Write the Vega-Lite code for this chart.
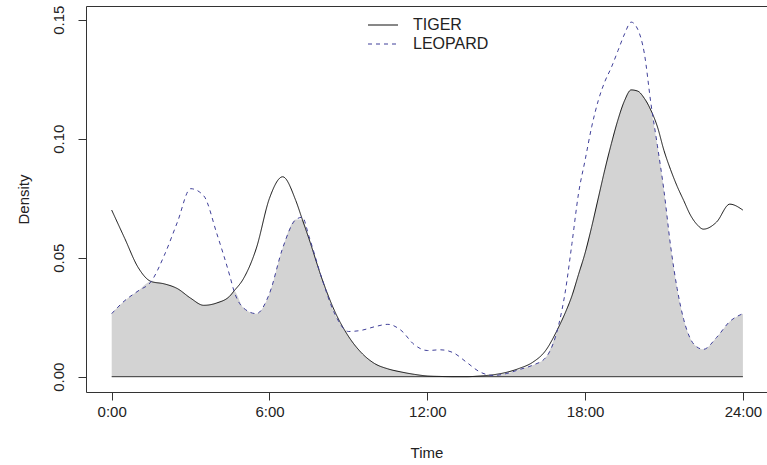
{
  "$schema": "https://vega.github.io/schema/vega-lite/v6.json",
  "width": 681,
  "height": 386,
  "autosize": {"type": "none"},
  "padding": {"left": 86, "top": 6, "right": 0, "bottom": 73},
  "background": "white",
  "config": {
    "font": "Liberation Sans",
    "view": {"stroke": "#333333", "strokeWidth": 1},
    "axis": {"grid": false, "domain": false, "tickColor": "#333333", "tickSize": 8, "labelFont": "Liberation Sans", "labelFontSize": 15, "labelColor": "#222222", "titleFont": "Liberation Sans", "titleFontSize": 15, "titleFontWeight": "normal", "titleColor": "#222222"},
    "legend": {"orient": "none", "legendX": 289, "legendY": 11, "symbolType": "M-3,0H3", "symbolSize": 100, "symbolStrokeWidth": 1, "labelFont": "Liberation Sans", "labelFontSize": 16, "labelColor": "#222222", "labelOffset": 22, "rowPadding": 3, "padding": 0}
  },
  "datasets": {
    "dens": [
      {"h": 0, "TIGER": 0.070, "LEOPARD": 0.0265, "overlap": 0.0265},
      {"h": 0.5, "TIGER": 0.058, "LEOPARD": 0.032, "overlap": 0.032},
      {"h": 1, "TIGER": 0.046, "LEOPARD": 0.036, "overlap": 0.036},
      {"h": 1.5, "TIGER": 0.040, "LEOPARD": 0.040, "overlap": 0.040},
      {"h": 2, "TIGER": 0.039, "LEOPARD": 0.051, "overlap": 0.039},
      {"h": 2.5, "TIGER": 0.037, "LEOPARD": 0.065, "overlap": 0.037},
      {"h": 3, "TIGER": 0.033, "LEOPARD": 0.079, "overlap": 0.033},
      {"h": 3.5, "TIGER": 0.030, "LEOPARD": 0.076, "overlap": 0.030},
      {"h": 4, "TIGER": 0.031, "LEOPARD": 0.060, "overlap": 0.031},
      {"h": 4.5, "TIGER": 0.034, "LEOPARD": 0.042, "overlap": 0.034},
      {"h": 4.65, "TIGER": 0.036, "LEOPARD": 0.036, "overlap": 0.036},
      {"h": 5, "TIGER": 0.041, "LEOPARD": 0.029, "overlap": 0.029},
      {"h": 5.5, "TIGER": 0.054, "LEOPARD": 0.0265, "overlap": 0.0265},
      {"h": 6, "TIGER": 0.075, "LEOPARD": 0.035, "overlap": 0.035},
      {"h": 6.5, "TIGER": 0.084, "LEOPARD": 0.054, "overlap": 0.054},
      {"h": 7, "TIGER": 0.074, "LEOPARD": 0.066, "overlap": 0.066},
      {"h": 7.25, "TIGER": 0.066, "LEOPARD": 0.067, "overlap": 0.066},
      {"h": 7.5, "TIGER": 0.058, "LEOPARD": 0.059, "overlap": 0.058},
      {"h": 8, "TIGER": 0.041, "LEOPARD": 0.041, "overlap": 0.041},
      {"h": 8.5, "TIGER": 0.027, "LEOPARD": 0.026, "overlap": 0.026},
      {"h": 9, "TIGER": 0.017, "LEOPARD": 0.019, "overlap": 0.017},
      {"h": 9.5, "TIGER": 0.010, "LEOPARD": 0.0195, "overlap": 0.010},
      {"h": 10, "TIGER": 0.0055, "LEOPARD": 0.021, "overlap": 0.0055},
      {"h": 10.5, "TIGER": 0.0033, "LEOPARD": 0.022, "overlap": 0.0033},
      {"h": 11, "TIGER": 0.002, "LEOPARD": 0.0195, "overlap": 0.002},
      {"h": 11.5, "TIGER": 0.001, "LEOPARD": 0.0135, "overlap": 0.001},
      {"h": 12, "TIGER": 0.0003, "LEOPARD": 0.011, "overlap": 0.0003},
      {"h": 12.5, "TIGER": 0.0001, "LEOPARD": 0.0113, "overlap": 0.0001},
      {"h": 13, "TIGER": 0, "LEOPARD": 0.010, "overlap": 0},
      {"h": 13.5, "TIGER": 0, "LEOPARD": 0.006, "overlap": 0},
      {"h": 14, "TIGER": 0.0003, "LEOPARD": 0.002, "overlap": 0.0003},
      {"h": 14.5, "TIGER": 0.0008, "LEOPARD": 0.0005, "overlap": 0.0005},
      {"h": 15, "TIGER": 0.0018, "LEOPARD": 0.0013, "overlap": 0.0013},
      {"h": 15.5, "TIGER": 0.0035, "LEOPARD": 0.003, "overlap": 0.003},
      {"h": 16, "TIGER": 0.006, "LEOPARD": 0.0048, "overlap": 0.0048},
      {"h": 16.5, "TIGER": 0.011, "LEOPARD": 0.008, "overlap": 0.008},
      {"h": 17, "TIGER": 0.021, "LEOPARD": 0.022, "overlap": 0.021},
      {"h": 17.25, "TIGER": 0.027, "LEOPARD": 0.036, "overlap": 0.027},
      {"h": 17.5, "TIGER": 0.034, "LEOPARD": 0.056, "overlap": 0.034},
      {"h": 17.75, "TIGER": 0.043, "LEOPARD": 0.077, "overlap": 0.043},
      {"h": 18, "TIGER": 0.052, "LEOPARD": 0.091, "overlap": 0.052},
      {"h": 18.25, "TIGER": 0.063, "LEOPARD": 0.105, "overlap": 0.063},
      {"h": 18.5, "TIGER": 0.075, "LEOPARD": 0.116, "overlap": 0.075},
      {"h": 18.75, "TIGER": 0.087, "LEOPARD": 0.124, "overlap": 0.087},
      {"h": 19, "TIGER": 0.098, "LEOPARD": 0.130, "overlap": 0.098},
      {"h": 19.25, "TIGER": 0.108, "LEOPARD": 0.137, "overlap": 0.108},
      {"h": 19.5, "TIGER": 0.116, "LEOPARD": 0.144, "overlap": 0.116},
      {"h": 19.75, "TIGER": 0.1205, "LEOPARD": 0.149, "overlap": 0.1205},
      {"h": 20, "TIGER": 0.120, "LEOPARD": 0.146, "overlap": 0.120},
      {"h": 20.25, "TIGER": 0.117, "LEOPARD": 0.136, "overlap": 0.117},
      {"h": 20.5, "TIGER": 0.112, "LEOPARD": 0.115, "overlap": 0.112},
      {"h": 20.75, "TIGER": 0.105, "LEOPARD": 0.097, "overlap": 0.097},
      {"h": 21, "TIGER": 0.095, "LEOPARD": 0.078, "overlap": 0.078},
      {"h": 21.25, "TIGER": 0.087, "LEOPARD": 0.055, "overlap": 0.055},
      {"h": 21.5, "TIGER": 0.080, "LEOPARD": 0.037, "overlap": 0.037},
      {"h": 21.75, "TIGER": 0.074, "LEOPARD": 0.024, "overlap": 0.024},
      {"h": 22, "TIGER": 0.068, "LEOPARD": 0.016, "overlap": 0.016},
      {"h": 22.25, "TIGER": 0.064, "LEOPARD": 0.0125, "overlap": 0.0125},
      {"h": 22.5, "TIGER": 0.062, "LEOPARD": 0.0115, "overlap": 0.0115},
      {"h": 23, "TIGER": 0.065, "LEOPARD": 0.0165, "overlap": 0.0165},
      {"h": 23.5, "TIGER": 0.0725, "LEOPARD": 0.0232, "overlap": 0.0232},
      {"h": 24, "TIGER": 0.070, "LEOPARD": 0.0265, "overlap": 0.0265}
    ],
    "base": [{"h0": 0, "h1": 24, "yv": 0}]
  },
  "layer": [
    {
      "data": {"name": "dens"},
      "mark": {"type": "area", "interpolate": "monotone", "color": "#d3d3d3", "opacity": 1},
      "encoding": {
        "x": {"field": "h", "type": "quantitative", "scale": {"domain": [-0.977, 24.916], "nice": false, "zero": false},
              "axis": {"values": [0, 6, 12, 18, 24], "labelExpr": "datum.value + ':00'", "labelAngle": 0, "labelPadding": 4, "title": "Time", "titleY": 60, "titleBaseline": "middle"}},
        "y": {"field": "overlap", "type": "quantitative", "scale": {"domain": [-0.00643, 0.15576], "nice": false, "zero": false},
              "axis": {"values": [0, 0.05, 0.1, 0.15], "format": ".2f", "labelAngle": -90, "labelAlign": "center", "labelBaseline": "bottom", "labelPadding": 12, "title": "Density", "titleAngle": -90, "titleX": -63, "titleY": 193, "titleAlign": "center", "titleBaseline": "middle"}},
        "y2": {"datum": 0}
      }
    },
    {
      "data": {"name": "base"},
      "mark": {"type": "rule", "color": "#333333", "strokeWidth": 1},
      "encoding": {
        "x": {"field": "h0", "type": "quantitative"},
        "x2": {"field": "h1"},
        "y": {"field": "yv", "type": "quantitative"}
      }
    },
    {
      "data": {"name": "dens"},
      "transform": [{"fold": ["TIGER", "LEOPARD"], "as": ["species", "density"]}],
      "mark": {"type": "line", "interpolate": "monotone", "strokeWidth": 1},
      "encoding": {
        "x": {"field": "h", "type": "quantitative"},
        "y": {"field": "density", "type": "quantitative"},
        "color": {"field": "species", "type": "nominal", "scale": {"domain": ["TIGER", "LEOPARD"], "range": ["#111111", "#3f3f99"]}, "legend": {"title": null}},
        "strokeDash": {"field": "species", "type": "nominal", "scale": {"domain": ["TIGER", "LEOPARD"], "range": [[1, 0], [4, 4]]}, "legend": {"title": null}}
      }
    }
  ]
}
